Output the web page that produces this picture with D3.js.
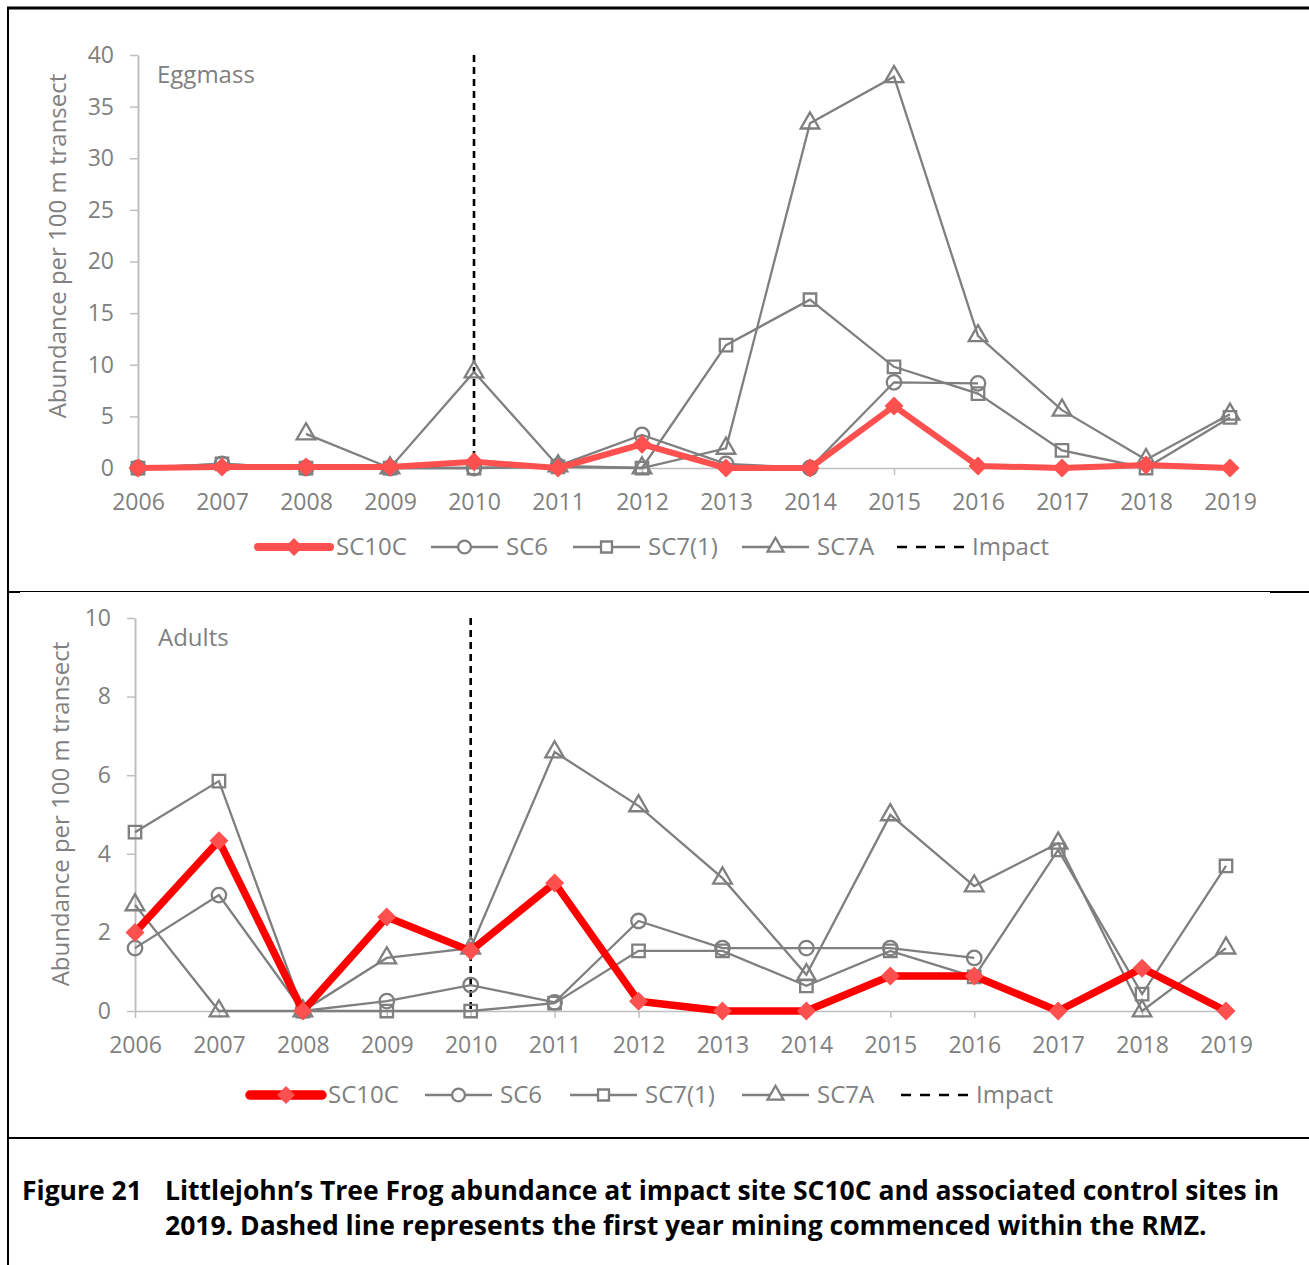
<!DOCTYPE html>
<html><head><meta charset="utf-8">
<script src="https://cdn.jsdelivr.net/npm/d3@7"></script>
<style>
html,body{margin:0;padding:0;background:#fff;}
text{font-family:"Open Sans",sans-serif;}
</style></head><body>
<svg id="chart" width="1309" height="1265"></svg>
<script>
const years = [2006,2007,2008,2009,2010,2011,2012,2013,2014,2015,2016,2017,2018,2019];
const impactYear = 2010;
const seriesNames = ["SC10C","SC6","SC7(1)","SC7A"];
// Eggmass
const eggSC10C = [0,0.1,0.1,0.1,0.6,0,2.3,0,0,6.0,0.2,0,0.3,0];
const eggSC6   = [0,0.4,0,0,0,0.2,3.2,0.4,0,8.3,8.2,null,null,null];
const eggSC71  = [0,0.4,0,0,0,0.1,0,11.9,16.3,9.8,7.2,1.7,0,4.9];
const eggSC7A  = [null,null,3.3,0,9.3,0.2,0,1.9,33.4,37.9,12.8,5.6,0.8,5.2];
const eggTicks = [0,5,10,15,20,25,30,35,40];
// Adults
const adSC10C = [2.0,4.33,0,2.39,1.53,3.26,0.25,0,0,0.89,0.89,0,1.09,0];
const adSC6   = [1.6,2.95,0,0.25,0.66,0.22,2.29,1.6,1.6,1.6,1.35,null,null,null];
const adSC71  = [4.55,5.85,0,0,0,0.2,1.53,1.53,0.64,1.53,0.87,4.1,0.43,3.69];
const adSC7A  = [2.7,0,0,1.35,1.6,6.59,5.22,3.38,0.92,4.99,3.18,4.27,0,1.6];
const adTicks = [0,2,4,6,8,10];
const yTitle = "Abundance per 100 m transect";
const captionLines = ["Figure 21","Littlejohn\u2019s Tree Frog abundance at impact site SC10C and associated control sites in","2019. Dashed line represents the first year mining commenced within the RMZ."];

const svg = d3.select("#chart");
const GRAY = "#7f7f7f", AXIS="#bfbfbf", TXT="#808080";

// frame
svg.append("line").attr("x1",8).attr("x2",8).attr("y1",7).attr("y2",1265).attr("stroke","#000").attr("stroke-width",2);
svg.append("line").attr("x1",7).attr("x2",1309).attr("y1",8).attr("y2",8).attr("stroke","#000").attr("stroke-width",3);
svg.append("line").attr("x1",8).attr("x2",1309).attr("y1",591.5).attr("y2",591.5).attr("stroke","#000").attr("stroke-width",1);
svg.append("line").attr("x1",8).attr("x2",20).attr("y1",592).attr("y2",592).attr("stroke","#000").attr("stroke-width",2);
svg.append("line").attr("x1",1270).attr("x2",1309).attr("y1",592).attr("y2",592).attr("stroke","#000").attr("stroke-width",2);
svg.append("line").attr("x1",8).attr("x2",1309).attr("y1",1138).attr("y2",1138).attr("stroke","#000").attr("stroke-width",2);

function symbolPath(type, size){
  if(type==="circle") return d3.symbol(d3.symbolCircle, size)();
  if(type==="square") return d3.symbol(d3.symbolSquare, size)();
  if(type==="triangle") return d3.symbol(d3.symbolTriangle, size)();
  if(type==="diamond") return `M0,${-size}L${size},0L0,${size}L${-size},0Z`;
}

function panel(cfg){
  const x = d3.scaleLinear().domain([years[0],years[years.length-1]]).range([cfg.x0,cfg.x1]);
  const y = d3.scaleLinear().domain([0,cfg.ymax]).range([cfg.yb,cfg.yt]);
  const g = svg.append("g");
  // y axis
  const ya = g.append("g").attr("transform",`translate(${cfg.x0},0)`)
    .call(d3.axisLeft(y).tickValues(cfg.ticks).tickSize(8).tickSizeOuter(0).tickPadding(16));
  ya.select(".domain").attr("stroke",AXIS).attr("stroke-width",2);
  ya.selectAll(".tick line").attr("stroke",AXIS).attr("stroke-width",1.5);
  ya.selectAll(".tick text").attr("fill",TXT).style("font-size","23px");
  // x axis
  const xa = g.append("g").attr("transform",`translate(0,${cfg.yb})`)
    .call(d3.axisBottom(x).tickValues(years).tickFormat(d3.format("d")).tickSize(7).tickSizeOuter(0).tickPadding(19));
  xa.select(".domain").attr("stroke",AXIS).attr("stroke-width",1.5);
  xa.selectAll(".tick line").attr("stroke",AXIS).attr("stroke-width",1.5);
  xa.selectAll(".tick text").attr("fill",TXT).style("font-size","23px");
  // y title
  g.append("text").attr("transform",`translate(${cfg.titleX},${cfg.titleY}) rotate(-90)`)
    .attr("text-anchor","middle").attr("dominant-baseline","middle").attr("fill",TXT).style("font-size","24px").text(yTitle);
  // panel label
  g.append("text").attr("x",cfg.labelX).attr("y",cfg.yt+28).attr("fill",TXT).style("font-size","24px").text(cfg.label);
  // impact line
  g.append("line").attr("x1",x(impactYear)).attr("x2",x(impactYear)).attr("y1",y(cfg.ymax)).attr("y2",y(0))
    .attr("stroke","#000").attr("stroke-width",2.6).attr("stroke-dasharray","7,5");
  const line = d3.line().defined(d=>d!==null).x((d,i)=>x(years[i])).y(d=>y(d));
  const defs = [
    {vals:cfg.s6, sym:"circle"},
    {vals:cfg.s71, sym:"square"},
    {vals:cfg.s7a, sym:"triangle"}
  ];
  defs.forEach(s=>{
    g.append("path").attr("d",line(s.vals)).attr("fill","none").attr("stroke",GRAY).attr("stroke-width",2.3);
  });
  defs.forEach(s=>{
    g.selectAll(null).data(s.vals.map((v,i)=>({v,i})).filter(d=>d.v!==null)).enter().append("path")
      .attr("d",symbolPath(s.sym, s.sym==="triangle"?150:(s.sym==="square"?155:165)))
      .attr("transform",d=>`translate(${x(years[d.i])},${y(d.v)})`)
      .attr("fill","none").attr("stroke",GRAY).attr("stroke-width",2.3);
  });
  g.append("path").attr("d",line(cfg.s10)).attr("fill","none").attr("stroke",cfg.redLine).attr("stroke-width",cfg.redW).attr("stroke-linejoin","round");
  g.selectAll(null).data(cfg.s10.map((v,i)=>({v,i})).filter(d=>d.v!==null)).enter().append("path")
    .attr("d",symbolPath("diamond",9.5)).attr("transform",d=>`translate(${x(years[d.i])},${y(d.v)})`).attr("fill","#ff5050");
  // legend
  const lg = g.append("g").attr("transform",`translate(0,${cfg.legY})`);
  const items = [
    {name:seriesNames[0], x:cfg.leg[0], type:"red"},
    {name:seriesNames[1], x:cfg.leg[1], type:"circle"},
    {name:seriesNames[2], x:cfg.leg[2], type:"square"},
    {name:seriesNames[3], x:cfg.leg[3], type:"triangle"},
    {name:"Impact", x:cfg.leg[4], type:"impact"}
  ];
  items.forEach(it=>{
    const L = it.type==="red"?72:67;
    if(it.type==="red"){
      lg.append("line").attr("x1",it.x).attr("x2",it.x+L).attr("stroke",cfg.redLegend).attr("stroke-width",cfg.redW+2).attr("stroke-linecap","round");
      lg.append("path").attr("d",symbolPath("diamond",9)).attr("transform",`translate(${it.x+L/2},0)`).attr("fill","#ff5050");
    } else if(it.type==="impact"){
      lg.append("line").attr("x1",it.x).attr("x2",it.x+L).attr("stroke","#000").attr("stroke-width",2.6).attr("stroke-dasharray","10,9");
    } else {
      lg.append("line").attr("x1",it.x).attr("x2",it.x+L).attr("stroke",GRAY).attr("stroke-width",2.3);
      lg.append("path").attr("d",symbolPath(it.type, it.type==="triangle"?110:(it.type==="square"?120:130)))
        .attr("transform",`translate(${it.x+L/2},0)`).attr("fill","#fff").attr("stroke",GRAY).attr("stroke-width",2.3);
    }
    lg.append("text").attr("x",it.x+L+ (it.type==="red"?6:8)).attr("y",0).attr("dy","0.35em")
      .attr("fill",TXT).style("font-size","24px").text(it.name);
  });
}

panel({x0:138,x1:1230,yb:468,yt:55,ymax:40,ticks:eggTicks,label:"Eggmass",labelX:157,titleX:60,titleY:246,
  s10:eggSC10C,s6:eggSC6,s71:eggSC71,s7a:eggSC7A,redLine:"#ff5050",redLegend:"#ff5050",redW:6,
  legY:547, leg:[258,431,573,742,897]});
panel({x0:135,x1:1226,yb:1011,yt:618,ymax:10,ticks:adTicks,label:"Adults",labelX:158,titleX:63,titleY:814,
  s10:adSC10C,s6:adSC6,s71:adSC71,s7a:adSC7A,redLine:"#ff0000",redLegend:"#ff0000",redW:7.5,
  legY:1095, leg:[250,425,570,742,901]});

// caption
const cap = svg.append("g").style("font-weight","700").attr("fill","#000");
cap.append("text").attr("x",22).attr("y",1200).style("font-size","26.5px").text(captionLines[0]);
cap.append("text").attr("x",165).attr("y",1200).style("font-size","26.5px").text(captionLines[1]);
cap.append("text").attr("x",165).attr("y",1235).style("font-size","26.5px").text(captionLines[2]);
</script>
</body></html>
